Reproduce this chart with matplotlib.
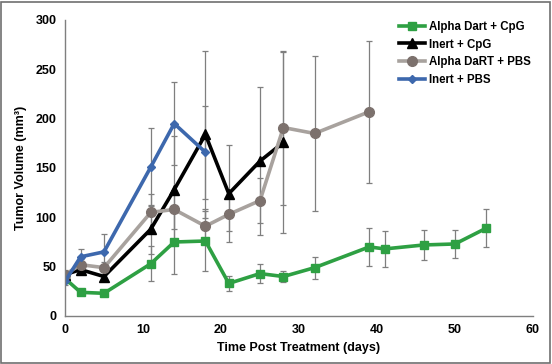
import numpy as np
import matplotlib
matplotlib.use("Agg")
import matplotlib.pyplot as plt
from matplotlib.patches import Rectangle
from matplotlib.lines import Line2D

plt.rcParams['font.family'] = ['Liberation Sans', 'DejaVu Sans']
plt.rcParams['font.weight'] = 'bold'

# ----- data -----
green_days = [0, 2, 5, 11, 14, 18, 21, 25, 28, 32, 39, 41, 46, 50, 54]
green_vol = [38, 24, 23, 53, 75, 76, 33, 43, 40, 49, 70, 68, 72, 73, 89]
green_err = [4, 3, 2, 18, 32, 30, 7.5, 9.5, 6, 11, 19, 18.5, 15, 14.5, 19]

black_days = [0, 2, 5, 11, 14, 18, 21, 25, 28]
black_vol = [42, 47, 40, 88, 128, 184, 124, 157, 176]
black_err = [4, 4, 5, 25, 54, 85, 49, 75, 92]

gray_days = [0, 2, 5, 11, 14, 18, 21, 25, 28, 32, 39]
gray_vol = [42, 52, 49, 105, 108, 91, 103, 117, 191, 185, 207]
gray_err = [5, 6, 6, 19, 20, 17, 17, 23, 78, 79, 72]

blue_days = [0, 2, 5, 11, 14, 18]
blue_vol = [35, 60, 65, 151, 195, 166]
blue_err = [4, 8, 18, 40, 42, 47]

labels = ['Alpha Dart + CpG', 'Inert + CpG', 'Alpha DaRT + PBS', 'Inert + PBS']

fig = plt.figure(figsize=(5.52, 3.64), dpi=100)
ax = fig.add_axes([65/552, 48/364, 468/552, 296/364])

ecol = '#7f7f7f'
kw = dict(ecolor=ecol, elinewidth=0.9, capsize=2.5, capthick=0.9, lw=2.6)

styles = [
    dict(color='#2ea043', marker='s', ms=5.5, mfc='#2ea043', mec='#2ea043'),
    dict(color='black', marker='^', ms=6.5, mfc='black', mec='black'),
    dict(color='#a8a29e', marker='o', ms=7, mfc='#7c716d', mec='#7c716d'),
    dict(color='#3d68ad', marker='D', ms=4.5, mfc='#3d68ad', mec='#3d68ad'),
]
series = [(green_days, green_vol, green_err), (black_days, black_vol, black_err),
          (gray_days, gray_vol, gray_err), (blue_days, blue_vol, blue_err)]

handles = []
for (d, v, e), st, lab in zip(series, styles, labels):
    ax.errorbar(d, v, yerr=e, **st, **kw)
    handles.append(Line2D([], [], lw=2.6, **st))

ax.set_xlim(0, 60)
ax.set_ylim(0, 300)
ax.set_xticks(range(0, 61, 10))
ax.set_yticks(range(0, 301, 50))
ax.tick_params(length=0, labelsize=9, pad=6)
for t in ax.get_xticklabels() + ax.get_yticklabels():
    t.set_fontweight('bold')
for s in ['top', 'right']:
    ax.spines[s].set_visible(False)
for s in ['left', 'bottom']:
    ax.spines[s].set_color('#7f7f7f')
    ax.spines[s].set_linewidth(1.0)

ax.set_xlabel('Time Post Treatment (days)', fontsize=9, fontweight='bold', labelpad=4)
ax.set_ylabel('Tumor Volume (mm³)', fontsize=9, fontweight='bold', labelpad=6)

leg = ax.legend(handles, labels, loc='upper left', bbox_to_anchor=(393/552, 1 - 15/364),
                bbox_transform=fig.transFigure, frameon=False, fontsize=8.3,
                handlelength=2.3, handletextpad=0.3, labelspacing=0.5, borderpad=0)
for t in leg.get_texts():
    t.set_fontweight('bold')

fig.patches.append(Rectangle((1/552, 1/364), 549/552, 361/364, transform=fig.transFigure,
                             fill=False, edgecolor='#707070', lw=1.2))

fig.savefig('out.png', dpi=100)
